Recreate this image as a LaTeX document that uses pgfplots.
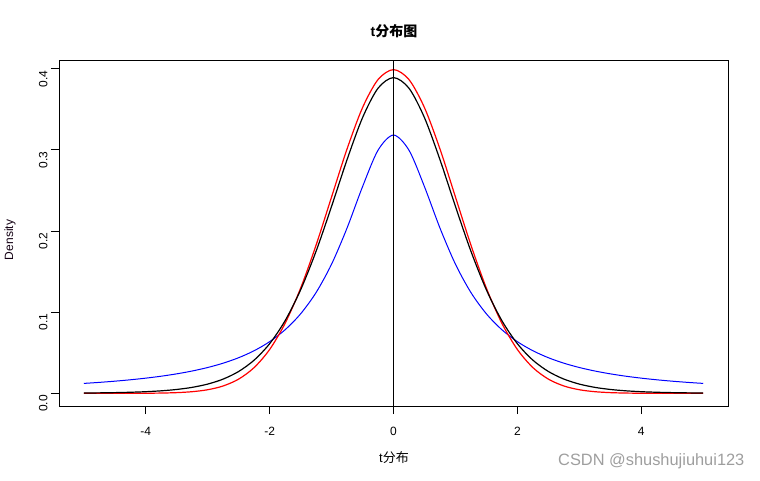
\documentclass[border=0pt]{standalone}
\usepackage{pgfplots}
\usepackage{pgfplotstable}
\pgfplotsset{compat=1.18}
\usepackage{fontspec}
\setmainfont{Liberation Sans}
\newfontfamily\cjk{Noto Sans CJK SC}
\pgfplotstableread{
x      norm       tten      cauchy
-5.00  0.0000015  0.000396  0.012243
-4.75  0.000005   0.000589  0.013509
-4.50  0.000016   0.000883  0.014979
-4.25  0.0000477  0.001335  0.016698
-4.00  0.000134   0.002031  0.018724
-3.75  0.000353   0.003109  0.021133
-3.50  0.000873   0.004782  0.024023
-3.25  0.002029   0.007381  0.027529
-3.00  0.004432   0.011399  0.031831
-2.75  0.009094   0.017573  0.037175
-2.50  0.017528   0.026940  0.043905
-2.25  0.031740   0.040902  0.052505
-2.00  0.053991   0.061148  0.063662
-1.75  0.086277   0.089526  0.078353
-1.50  0.129518   0.127439  0.097942
-1.25  0.182649   0.175102  0.124218
-1.00  0.241971   0.230363  0.159155
-0.75  0.301137   0.287975  0.203718
-0.50  0.352065   0.339695  0.254648
-0.25  0.386668   0.376000  0.299586
 0.00  0.398942   0.389108  0.318310
 0.25  0.386668   0.376000  0.299586
 0.50  0.352065   0.339695  0.254648
 0.75  0.301137   0.287975  0.203718
 1.00  0.241971   0.230363  0.159155
 1.25  0.182649   0.175102  0.124218
 1.50  0.129518   0.127439  0.097942
 1.75  0.086277   0.089526  0.078353
 2.00  0.053991   0.061148  0.063662
 2.25  0.031740   0.040902  0.052505
 2.50  0.017528   0.026940  0.043905
 2.75  0.009094   0.017573  0.037175
 3.00  0.004432   0.011399  0.031831
 3.25  0.002029   0.007381  0.027529
 3.50  0.000873   0.004782  0.024023
 3.75  0.000353   0.003109  0.021133
 4.00  0.000134   0.002031  0.018724
 4.25  0.0000477  0.001335  0.016698
 4.50  0.000016   0.000883  0.014979
 4.75  0.000005   0.000589  0.013509
 5.00  0.0000015  0.000396  0.012243
}\dens
\begin{document}
\begin{tikzpicture}[x=1pt,y=1pt]
\useasboundingbox (0,0) rectangle (760,480);
\begin{axis}[
  at={(59pt,74pt)}, anchor=south west,
  scale only axis, width=669pt, height=346pt,
  xmin=-5.4, xmax=5.4, ymin=-0.0156, ymax=0.4108,
  xtick={-4,-2,0,2,4}, ytick={0,0.1,0.2,0.3,0.4},
  yticklabels={0.0,0.1,0.2,0.3,0.4},
  xticklabels={-4,-2,0,2,4},
  tick align=outside, major tick length=8pt,
  xtick pos=bottom, ytick pos=left,
  axis line style={line width=0.9pt},
  every tick/.style={black, line width=0.9pt},
  tick label style={font=\fontsize{12}{14}\selectfont},
  xticklabel style={yshift=-10pt},
  yticklabel style={rotate=90, anchor=south, xshift=-10pt},
  /pgf/number format/assume math mode=true,
  clip=true,
]
\addplot[blue, line width=1pt, smooth] table[x=x, y=cauchy] {\dens};
\addplot[red, line width=1.2pt, smooth] table[x=x, y=norm] {\dens};
\addplot[black, line width=1.2pt, smooth] table[x=x, y=tten] {\dens};
\draw[black, line width=0.9pt] (axis cs:0,-0.0156) -- (axis cs:0,0.4108);
\end{axis}
\node[font=\fontsize{14}{16}\selectfont\bfseries] at (394,449) {t{\cjk\bfseries 分布图}};
\node[font=\fontsize{13}{15}\selectfont] at (394,22) {t{\cjk 分布}};
\node[font=\fontsize{12}{14}\selectfont, text=black!85!violet, rotate=90] at (10,240) {Density};
\node[font=\fontsize{16.4}{18}\selectfont, text=black!38, anchor=west, inner sep=0pt] at (558,19) {CSDN @shushujiuhui123};
\end{tikzpicture}
\end{document}
